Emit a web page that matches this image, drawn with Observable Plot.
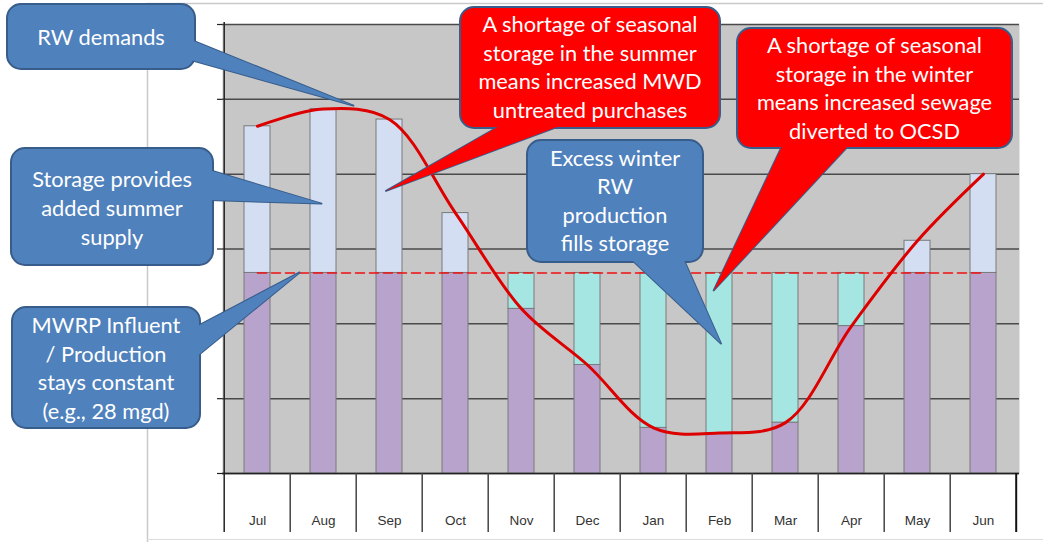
<!DOCTYPE html>
<html>
<head>
<meta charset="utf-8">
<script src="https://cdn.jsdelivr.net/npm/d3@7"></script>
<script src="https://cdn.jsdelivr.net/npm/@observablehq/plot@0.6"></script>
<style>
  html, body { margin: 0; padding: 0; background: #fff; }
  #chart svg { display: block; }
</style>
</head>
<body>
<div id="chart"></div>
<script>
// ---- data ----
const months = ["Jul","Aug","Sep","Oct","Nov","Dec","Jan","Feb","Mar","Apr","May","Jun"];
const demand = [46.4, 48.7, 47.3, 34.8, 22.0, 14.5, 6.1, 5.4, 6.8, 19.7, 31.1, 40.0];
const production = 26.8; // constant MWRP production level
const yTicks = [0, 10, 20, 30, 40, 50, 60];

const calloutTexts = {
  rw: ["RW demands"],
  storage: ["Storage provides", "added summer", "supply"],
  mwrp: ["MWRP Influent", "/ Production", "stays constant", "(e.g., 28 mgd)"],
  summer: ["A shortage of seasonal", "storage in the summer", "means increased MWD", "untreated purchases"],
  winter: ["A shortage of seasonal", "storage in the winter", "means increased sewage", "diverted to OCSD"],
  excess: ["Excess winter", "RW", "production", "fills storage"]
};

// ---- derived tables ----
const rows = months.map((m, i) => ({month: m, demand: demand[i]}));
const segs = [];
rows.forEach(r => {
  const base = Math.min(r.demand, production);
  segs.push({month: r.month, y1: 0, y2: base, kind: "prod"});
  if (r.demand > production) segs.push({month: r.month, y1: production, y2: r.demand, kind: "fromStorage"});
  else segs.push({month: r.month, y1: r.demand, y2: production, kind: "toStorage"});
});
const colors = {prod: "#b7a3cb", fromStorage: "#d3def2", toStorage: "#a6e6e2"};

const W = 1043, H = 542;
const plot = Plot.plot({
  width: W, height: H,
  marginTop: 24, marginBottom: 69, marginLeft: 222, marginRight: 24,
  style: {background: "#fff", fontFamily: "'Liberation Sans', Arial, sans-serif"},
  x: {domain: months, paddingInner: 0.6, paddingOuter: 0.3, label: null},
  y: {domain: [0, 60], label: null},
  marks: [
    Plot.frame({fill: "#c8c7c7", stroke: null}),
    Plot.gridY(yTicks, {stroke: "#4a4a4a", strokeOpacity: 1, strokeWidth: 1.5}),
    Plot.barY(segs, {x: "month", y1: "y1", y2: "y2", fill: d => colors[d.kind], stroke: "#7a7a7a", strokeWidth: 1}),
    Plot.ruleY([0], {stroke: "#222", strokeWidth: 1.5}),
    Plot.lineY(rows, {x: "month", y: () => production, stroke: "#ee1111", strokeWidth: 1.6, strokeDasharray: "9,5"}),
    Plot.lineY(rows, {x: "month", y: "demand", curve: "catmull-rom", stroke: "#dd0000", strokeWidth: 3}),
    Plot.axisY(yTicks, {tickSize: 5, tickFormat: () => "", stroke: "#222", strokeWidth: 1.2}),
    Plot.axisX({tickSize: 0, tickPadding: 42, fontSize: 13.5, fill: "#333", label: null})
  ]
});
document.getElementById("chart").appendChild(plot);

// ---- annotations (table cells, frame, callouts) ----
const svg = d3.select(plot);
const xs = plot.scale("x"), ys = plot.scale("y");
const step = xs.step, x0 = xs.apply(months[0]) - step * xs.paddingOuter;
const yBase = ys.apply(0);
const px = i => xs.apply(months[0]) + xs.bandwidth / 2 + i * step;
const py = v => ys.apply(v);

const deco = svg.append("g");
// outer frame
deco.append("path").attr("d", `M147.5,${H}V3.5H${W}`).attr("fill", "none").attr("stroke", "#c9c9c9").attr("stroke-width", 1.5);
deco.append("line").attr("x1", 147).attr("x2", W).attr("y1", 539.5).attr("y2", 539.5).attr("stroke", "#dddddd");
// left axis line extending through table
deco.append("line").attr("x1", x0).attr("x2", x0).attr("y1", 22).attr("y2", 532).attr("stroke", "#222").attr("stroke-width", 1.5);
// cell dividers
for (let i = 1; i <= months.length; i++) {
  const xx = x0 + i * step;
  deco.append("line").attr("x1", xx).attr("x2", xx).attr("y1", yBase).attr("y2", 532)
    .attr("stroke", i === months.length ? "#111" : "#444").attr("stroke-width", i === months.length ? 2 : 1.5);
}

const callouts = [
  {key: "rw", fill: "#4f81bd", box: [7, 4, 195, 69], base: [[191, 40], [191, 60]], tip: [1.46, 49.1], lh: 29, y0: 45},
  {key: "storage", fill: "#4f81bd", box: [11, 148, 213, 265], base: [[209, 170], [209, 200]], tip: [0.976, 36.0], lh: 29, y0: 187},
  {key: "mwrp", fill: "#4f81bd", box: [12, 307, 200, 428], base: [[196, 327], [196, 357]], tip: [0.645, production], lh: 28.5, y0: 333},
  {key: "summer", fill: "#ff0000", box: [460, 7, 720, 128], base: [[503, 124], [565, 124]], tip: [1.955, 37.7], lh: 28.7, y0: 32},
  {key: "winter", fill: "#ff0000", box: [737, 28, 1012, 148], base: [[783, 144], [850, 144]], tip: [6.92, 24.4], lh: 28.5, y0: 53},
  {key: "excess", fill: "#4f81bd", box: [527, 140, 703, 262], base: [[630, 258], [683, 258]], tip: [7.03, 17.3], lh: 28.3, y0: 166}
];
const border = "#385d8a";
const cg = svg.append("g").attr("font-family", "Lato, 'Open Sans', sans-serif");
callouts.forEach(c => {
  const [bx1, by1, bx2, by2] = c.box;
  const tip = [px(c.tip[0]), py(c.tip[1])];
  const wedge = `M${c.base[0][0]},${c.base[0][1]}L${tip[0]},${tip[1]}L${c.base[1][0]},${c.base[1][1]}Z`;
  const g = cg.append("g");
  g.append("path").attr("d", wedge).attr("fill", c.fill).attr("stroke", border).attr("stroke-width", 2).attr("stroke-linejoin", "round");
  g.append("rect").attr("x", bx1).attr("y", by1).attr("width", bx2 - bx1).attr("height", by2 - by1)
    .attr("rx", 14).attr("fill", c.fill).attr("stroke", border).attr("stroke-width", 2);
  g.append("path").attr("d", wedge).attr("fill", c.fill).attr("stroke", "none");
  const cx = (bx1 + bx2) / 2;
  calloutTexts[c.key].forEach((t, i) => {
    g.append("text").attr("x", cx).attr("y", c.y0 + i * c.lh).attr("text-anchor", "middle")
      .attr("fill", "#fff").attr("font-size", 21.8).text(t);
  });
});
</script>
</body>
</html>
